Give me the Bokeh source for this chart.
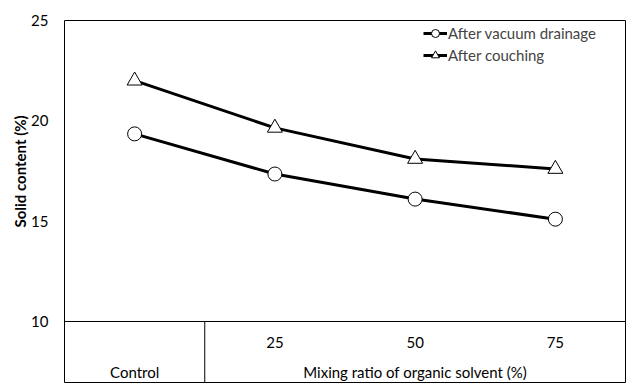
import numpy as np
from bokeh.plotting import figure
from bokeh.models import Range1d, FixedTicker, Span, Legend, LegendItem, Title
from bokeh.core.properties import value
from bokeh.embed import file_html
from bokeh.resources import INLINE

# ---- data ----
categories = ["Control", "25", "50", "75"]
vacuum = [19.35, 17.35, 16.1, 15.1]
couching = [22.0, 19.65, 18.1, 17.6]
y_ticks = [10, 15, 20, 25]
group_labels = ["Control", "Mixing ratio of organic solvent (%)"]
group_spans = [(0, 1), (1, 4)]
y_label = "Solid content (%)"
series_names = ["After vacuum drainage", "After couching"]

FONT = "Lato"
FS = "15px"
x = np.arange(len(categories)) + 0.5
y_axis_min = 10
y_max = 25
table_bottom = 6.96
row1_y = 8.97
row2_y = 7.47

p = figure(width=627, height=383, output_backend="svg", toolbar_location=None,
           x_range=Range1d(0, len(categories)), y_range=Range1d(table_bottom, y_max),
           x_axis_type=None,
           min_border_left=64, min_border_top=20, min_border_right=2, min_border_bottom=1)
p.background_fill_color = "white"
p.border_fill_color = "white"
p.outline_line_color = "black"
p.outline_line_width = 1
p.ygrid.grid_line_color = None

yax = p.yaxis[0]
yax.ticker = FixedTicker(ticks=y_ticks)
yax.major_tick_in = 0
yax.major_tick_out = 0
yax.minor_tick_line_color = None
yax.axis_line_color = None
yax.major_label_standoff = 16
yax.major_label_text_font = FONT
yax.major_label_text_font_size = FS
yax.major_label_text_color = "black"

# y-axis title, aligned with the data part of the frame
p.add_layout(Title(text=y_label, align="left", offset=155, standoff=0,
                   text_font=FONT, text_font_size="15px", text_font_style="bold",
                   text_color="black"), "left")

# table lines
p.add_layout(Span(location=y_axis_min, dimension="width", line_color="black", line_width=1))
bounds = [s[1] for s in group_spans[:-1]]
p.segment(x0=bounds, y0=[table_bottom] * len(bounds), x1=bounds, y1=[y_axis_min] * len(bounds),
          line_color="black", line_width=1)

# category labels (row 1), group labels (row 2)
p.text(x=x[1:], y=[row1_y] * (len(categories) - 1), text=categories[1:],
       text_font=value(FONT), text_font_size=FS, text_align="center", text_baseline="middle",
       text_color="black")
centers = [(a + b) / 2 for a, b in group_spans]
p.text(x=centers, y=[row2_y] * len(centers), text=group_labels,
       text_font=value(FONT), text_font_size=FS, text_align="center", text_baseline="middle",
       text_color="black")

# series
l1 = p.line(x, vacuum, line_color="black", line_width=3)
s1 = p.scatter(x, vacuum, marker="circle", size=14, fill_color="white", line_color="black", line_width=1)
l2 = p.line(x, couching, line_color="black", line_width=3)
s2 = p.scatter(x, couching, marker="triangle", size=15, fill_color="white", line_color="black", line_width=1)

legend = Legend(items=[LegendItem(label=series_names[0], renderers=[l1, s1]),
                       LegendItem(label=series_names[1], renderers=[l2, s2])],
                location=(359, 317), orientation="vertical",
                border_line_color=None, background_fill_alpha=0,
                label_text_font=FONT, label_text_font_size=FS,
                glyph_width=24, glyph_height=20, label_height=20, label_standoff=1,
                spacing=2, padding=0, margin=0)
p.add_layout(legend)

open("out.html", "w").write(file_html(p, INLINE))
